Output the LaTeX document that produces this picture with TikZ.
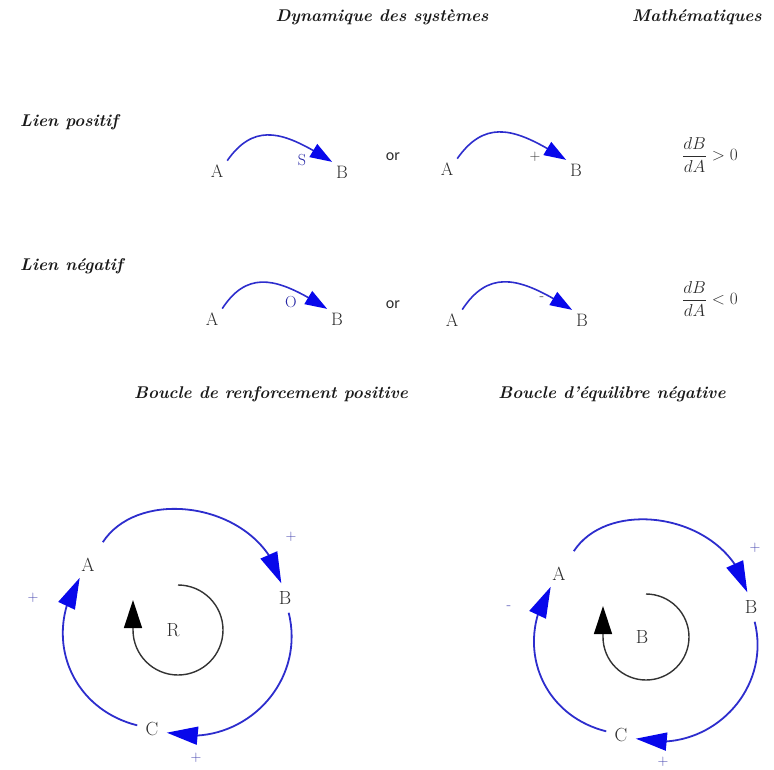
\documentclass[tikz,border=0pt]{standalone}
\usepackage{fontspec}
\newfontfamily\orfont{Carlito}
\usetikzlibrary{arrows.meta,bending}
\definecolor{linkblue}{RGB}{45,45,205}
\definecolor{headblue}{RGB}{8,8,235}
\definecolor{signblue}{RGB}{70,70,175}
\definecolor{inkgrey}{RGB}{45,45,45}

\begin{document}
\begin{tikzpicture}[x=1pt,y=1pt,
			heading/.style={font=\fontsize{17}{20}\selectfont\bfseries\itshape,text=black!90,inner sep=0pt},
			var/.style={font=\fontsize{18}{20}\selectfont,text=inkgrey,inner sep=1pt,outer sep=3pt},
			lvar/.style={font=\fontsize{19}{21}\selectfont,text=inkgrey,circle,inner sep=1pt,minimum size=30pt},
			sign/.style={font=\fontsize{15}{17}\selectfont,text=signblue,inner sep=1pt},
			word/.style={font=\orfont\fontsize{16}{18}\selectfont,text=inkgrey},
			link/.style={draw=linkblue,line width=1.6pt,looseness=1.25,-{Triangle[length=22pt,width=15pt,color=headblue]}},
			fb/.style={draw=linkblue,line width=1.8pt,looseness=1.12,-{Triangle[length=31pt,width=18pt,color=headblue]}},
			turn/.style={draw=black!80,line width=1.4pt,-{Triangle[length=28pt,width=18pt,color=black]}}
			]
			\useasboundingbox (0,0) rectangle (774,-769);
			\node[heading] (sd) at (382,-17) {Dynamique des systèmes};
			\node[heading] (math) at (697,-17) {Mathématiques};
			\node[heading,anchor=west] (pos) at (20,-122) {Lien positif};
			\node[heading,anchor=west] (neg) at (20,-266) {Lien négatif};
			\node[heading] (reinf) at (271,-394) {Boucle de renforcement positive};
			\node[heading] (bal) at (612,-394) {Boucle d'équilibre négative};

			\node[var] (a1) at (217,-171) {A};
			\node[var] (b1) at (342,-172) {B};
			\node[var] (a2) at (447,-169) {A};
			\node[var] (b2) at (576,-170) {B};
			\node[var] (a3) at (212,-319) {A};
			\node[var] (b3) at (337,-319) {B};
			\node[var] (a4) at (452,-320) {A};
			\node[var] (b4) at (582,-320) {B};
			\draw[link] (a1.north east) to[out=55,in=148] (b1.north west);
			\draw[link] (a2.north east) to[out=55,in=148] (b2.north west);
			\draw[link] (a3.north east) to[out=57,in=148] (b3.north west);
			\draw[link] (a4.north east) to[out=57,in=148] (b4.north west);
			\node[sign,text=linkblue!80!black,font=\fontsize{16}{18}\selectfont] (s1) at (302,-160) {S};
			\node[sign,text=inkgrey] (p1) at (535,-157) {+};
			\node[sign,text=linkblue!80!black,font=\fontsize{16}{18}\selectfont] (o1) at (291,-302) {O};
			\node[sign,text=inkgrey] (m1) at (542,-299) {-};
			\node[word] (or1) at (393,-157) {or};
			\node[word] (or2) at (393,-305) {or};
			\node[font=\fontsize{18}{20}\selectfont,text=inkgrey] (d1) at (710,-155) {$\displaystyle\frac{dB}{dA}>0$};
			\node[font=\fontsize{18}{20}\selectfont,text=inkgrey] (d2) at (710,-299) {$\displaystyle\frac{dB}{dA}<0$};

			\node[lvar] (la) at (88,-565) {A};
			\node[lvar] (lb) at (285,-598) {B};
			\node[lvar] (lc) at (152,-729) {C};
			\node[lvar] (lr) at (173,-630) {R};
			\draw[fb,shorten <=12pt] (la) to[out=57,in=104] (lb);
			\draw[fb] (lb) to[out=-76,in=-14] (lc);
			\draw[fb] (lc) to[out=166,in=237] (la);
			\draw[turn] (lr) ++(5,45) arc[start angle=90,end angle=-180,radius=45] -- ++(0,30);
			\node[sign] (lp1) at (291,-537) {+};
			\node[sign] (lp2) at (33,-598) {+};
			\node[sign] (lp3) at (196,-758) {+};

			\node[lvar] (ra) at (559,-574) {A};
			\node[lvar] (rb) at (751,-607) {B};
			\node[lvar] (rc) at (621,-735) {C};
			\node[lvar] (rm) at (642,-637) {B};
			\draw[fb,shorten <=12pt] (ra) to[out=57,in=104] (rb);
			\draw[fb] (rb) to[out=-76,in=-14] (rc);
			\draw[fb] (rc) to[out=166,in=237] (ra);
			\draw[turn] (rm) ++(4,43) arc[start angle=90,end angle=-180,radius=43] -- ++(0,31);
			\node[sign] (rp1) at (755,-548) {+};
			\node[sign] (rp2) at (509,-608) {-};
			\node[sign] (rp3) at (663,-762) {+};
		\end{tikzpicture}
\end{document}
